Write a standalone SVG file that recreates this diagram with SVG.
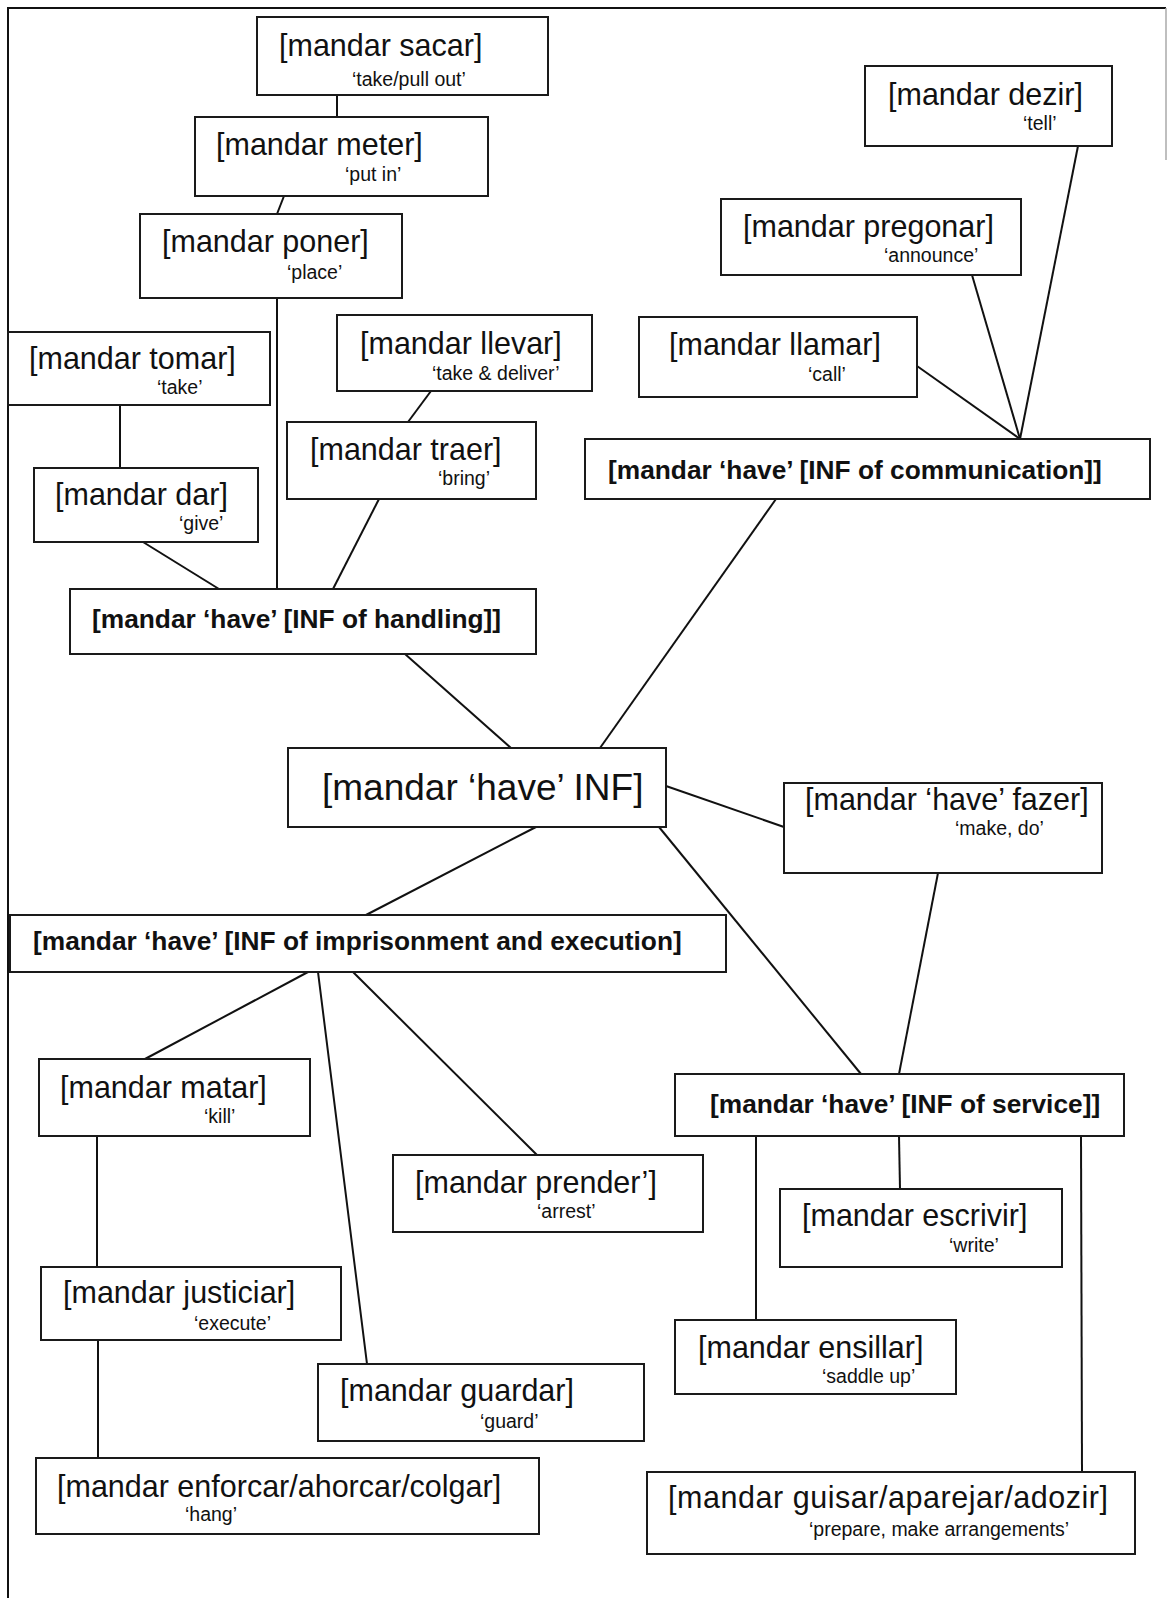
<svg xmlns="http://www.w3.org/2000/svg" width="1168" height="1598" viewBox="0 0 1168 1598">
<style>
  .box { fill: #fff; stroke: #1a1a1a; stroke-width: 2; }
  .edge { stroke: #111; stroke-width: 2; fill: none; }
  .main { font-family: "Liberation Sans", Arial, sans-serif; font-size: 30.5px; fill: #111; }
  .cat { font-family: "Liberation Sans", Arial, sans-serif; font-size: 26.3px; font-weight: bold; fill: #111; }
  .ctr { font-family: "Liberation Sans", Arial, sans-serif; font-size: 37px; fill: #111; }
  .sub { font-family: "Liberation Sans", Arial, sans-serif; font-size: 19.5px; fill: #111; }
</style>
<rect x="0" y="0" width="1168" height="1598" fill="#fff"/>
<g id="frame">
  <path d="M8,1598 V8 H1166" fill="none" stroke="#111" stroke-width="2"/>
  <line x1="1166" y1="8" x2="1166" y2="160" stroke="#aaa" stroke-width="1.5"/>
</g>
<g id="connectors">
  <line class="edge" x1="337" y1="95" x2="337" y2="117"/>
  <line class="edge" x1="284" y1="196" x2="277" y2="214"/>
  <line class="edge" x1="277" y1="298" x2="277" y2="589"/>
  <line class="edge" x1="120" y1="405" x2="120" y2="468"/>
  <line class="edge" x1="143" y1="542" x2="219" y2="589"/>
  <line class="edge" x1="431" y1="391" x2="408" y2="422"/>
  <line class="edge" x1="379" y1="499" x2="333" y2="589"/>
  <line class="edge" x1="405" y1="654" x2="511" y2="748"/>
  <line class="edge" x1="776" y1="499" x2="600" y2="748"/>
  <line class="edge" x1="1078" y1="146" x2="1020" y2="439"/>
  <line class="edge" x1="972" y1="275" x2="1020" y2="439"/>
  <line class="edge" x1="917" y1="366" x2="1020" y2="439"/>
  <line class="edge" x1="666" y1="786" x2="784" y2="827"/>
  <line class="edge" x1="536" y1="827" x2="366" y2="915"/>
  <line class="edge" x1="659" y1="827" x2="861" y2="1074"/>
  <line class="edge" x1="938" y1="873" x2="899" y2="1074"/>
  <line class="edge" x1="308" y1="972" x2="145" y2="1059"/>
  <line class="edge" x1="318" y1="972" x2="367" y2="1364"/>
  <line class="edge" x1="353" y1="972" x2="537" y2="1155"/>
  <line class="edge" x1="97" y1="1136" x2="97" y2="1267"/>
  <line class="edge" x1="98" y1="1340" x2="98" y2="1458"/>
  <line class="edge" x1="899" y1="1136" x2="900" y2="1189"/>
  <line class="edge" x1="756" y1="1136" x2="756" y2="1320"/>
  <line class="edge" x1="1081" y1="1136" x2="1082" y2="1472"/>
</g>
<g id="n-sacar"><rect class="box" x="257" y="17" width="291" height="78"/><text class="main" x="279" y="56">[mandar sacar]</text><text class="sub" x="352" y="86">‘take/pull out’</text></g>
<g id="n-meter"><rect class="box" x="195" y="117" width="293" height="79"/><text class="main" x="216" y="155">[mandar meter]</text><text class="sub" x="345" y="181">‘put in’</text></g>
<g id="n-poner"><rect class="box" x="140" y="214" width="262" height="84"/><text class="main" x="162" y="252">[mandar poner]</text><text class="sub" x="287" y="279">‘place’</text></g>
<g id="n-tomar"><rect class="box" x="8" y="332" width="262" height="73"/><text class="main" x="29" y="369">[mandar tomar]</text><text class="sub" x="157" y="394">‘take’</text></g>
<g id="n-dar"><rect class="box" x="34" y="468" width="224" height="74"/><text class="main" x="55" y="505">[mandar dar]</text><text class="sub" x="179" y="530">‘give’</text></g>
<g id="n-llevar"><rect class="box" x="337" y="315" width="255" height="76"/><text class="main" x="360" y="354">[mandar llevar]</text><text class="sub" x="432" y="380">‘take &amp; deliver’</text></g>
<g id="n-traer"><rect class="box" x="287" y="422" width="249" height="77"/><text class="main" x="310" y="460">[mandar traer]</text><text class="sub" x="438" y="485">‘bring’</text></g>
<g id="n-handling"><rect class="box" x="70" y="589" width="466" height="65"/><text class="cat" x="92" y="628">[mandar ‘have’ [INF of handling]]</text></g>
<g id="n-dezir"><rect class="box" x="865" y="66" width="247" height="80"/><text class="main" x="888" y="105">[mandar dezir]</text><text class="sub" x="1023" y="130">‘tell’</text></g>
<g id="n-pregonar"><rect class="box" x="721" y="199" width="300" height="76"/><text class="main" x="743" y="237">[mandar pregonar]</text><text class="sub" x="884" y="262">‘announce’</text></g>
<g id="n-llamar"><rect class="box" x="639" y="317" width="278" height="80"/><text class="main" x="669" y="355">[mandar llamar]</text><text class="sub" x="808" y="381">‘call’</text></g>
<g id="n-communication"><rect class="box" x="585" y="439" width="565" height="60"/><text class="cat" x="608" y="479">[mandar ‘have’ [INF of communication]]</text></g>
<g id="n-central"><rect class="box" x="288" y="748" width="378" height="79"/><text class="ctr" x="322" y="800">[mandar ‘have’ INF]</text></g>
<g id="n-fazer"><rect class="box" x="784" y="783" width="318" height="90"/><text class="main" x="805" y="810">[mandar ‘have’ fazer]</text><text class="sub" x="955" y="835">‘make, do’</text></g>
<g id="n-imprisonment"><rect class="box" x="10" y="915" width="716" height="57"/><text class="cat" x="33" y="950">[mandar ‘have’ [INF of imprisonment and execution]</text></g>
<g id="n-matar"><rect class="box" x="39" y="1059" width="271" height="77"/><text class="main" x="60" y="1098">[mandar matar]</text><text class="sub" x="204" y="1123">‘kill’</text></g>
<g id="n-prender"><rect class="box" x="393" y="1155" width="310" height="77"/><text class="main" x="415" y="1193">[mandar prender’]</text><text class="sub" x="537" y="1218">‘arrest’</text></g>
<g id="n-service"><rect class="box" x="675" y="1074" width="449" height="62"/><text class="cat" x="710" y="1113">[mandar ‘have’ [INF of service]]</text></g>
<g id="n-escrivir"><rect class="box" x="780" y="1189" width="282" height="78"/><text class="main" x="802" y="1226">[mandar escrivir]</text><text class="sub" x="949" y="1252">‘write’</text></g>
<g id="n-justiciar"><rect class="box" x="41" y="1267" width="300" height="73"/><text class="main" x="63" y="1303">[mandar justiciar]</text><text class="sub" x="194" y="1330">‘execute’</text></g>
<g id="n-ensillar"><rect class="box" x="675" y="1320" width="281" height="74"/><text class="main" x="698" y="1358">[mandar ensillar]</text><text class="sub" x="822" y="1383">‘saddle up’</text></g>
<g id="n-guardar"><rect class="box" x="318" y="1364" width="326" height="77"/><text class="main" x="340" y="1401">[mandar guardar]</text><text class="sub" x="480" y="1428">‘guard’</text></g>
<g id="n-enforcar"><rect class="box" x="36" y="1458" width="503" height="76"/><text class="main" x="57" y="1497">[mandar enforcar/ahorcar/colgar]</text><text class="sub" x="185" y="1521">‘hang’</text></g>
<g id="n-guisar"><rect class="box" x="647" y="1472" width="488" height="82"/><text class="main" x="668" y="1508" textLength="440" lengthAdjust="spacing">[mandar guisar/aparejar/adozir]</text><text class="sub" x="809" y="1536">‘prepare, make arrangements’</text></g>
</svg>
